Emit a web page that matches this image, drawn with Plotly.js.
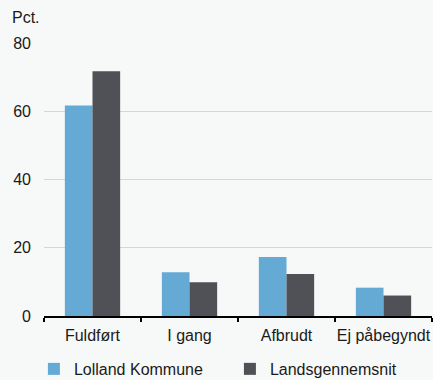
<!DOCTYPE html>
<html>
<head>
<meta charset="utf-8">
<script src="https://cdn.plot.ly/plotly-3.0.1.min.js"></script>
<style>html,body{margin:0;padding:0;background:#f7f8f8;}</style>
</head>
<body>
<div id="chart" style="width:433px;height:380px;"></div>
<script>
const categories = ["Fuldført", "I gang", "Afbrudt", "Ej påbegyndt"];
const lollandValues = [61.7, 12.8, 17.3, 8.3];
const landsValues = [71.7, 9.9, 12.3, 6.0];
const seriesNames = ["Lolland Kommune", "Landsgennemsnit"];
const yTicks = [0, 20, 40, 60, 80];

const font = {family: "Liberation Sans, Arial, sans-serif", size: 16, color: "#1a1a1a"};

const traces = [
  {type: "bar", x: categories, y: lollandValues, name: seriesNames[0],
   marker: {color: "#64aad5"}, hoverinfo: "skip"},
  {type: "bar", x: categories, y: landsValues, name: seriesNames[1],
   marker: {color: "#505157"}, hoverinfo: "skip"}
];

const layout = {
  width: 433, height: 380,
  paper_bgcolor: "#f7f8f8", plot_bgcolor: "#f7f8f8",
  font: font,
  margin: {l: 44, r: 1, t: 42.5, b: 64, autoexpand: false},
  barmode: "group", bargap: 0.43, bargroupgap: 0,
  xaxis: {type: "category", tickson: "boundaries", ticks: "outside", ticklen: 4,
          tickcolor: "#000", tickwidth: 1.5, showline: true, linecolor: "#000", linewidth: 1.5,
          showgrid: false, tickfont: font, tickangle: 0, ticklabelstandoff: 4, fixedrange: true},
  yaxis: {range: [0, 80], tickvals: yTicks, ticktext: yTicks.map(String), showgrid: true,
          gridcolor: "#d6d6d6", gridwidth: 1, zeroline: false, showline: false,
          ticks: "", ticklabelstandoff: 12, tickfont: font, fixedrange: true},
  showlegend: true,
  legend: {orientation: "h", x: -0.026, xanchor: "left", y: -0.194, yanchor: "middle",
           entrywidth: 151, font: font, bgcolor: "rgba(0,0,0,0)", traceorder: "normal"},
  annotations: [{text: "Pct.", xref: "paper", yref: "paper", x: -0.088, y: 1.093,
                 xanchor: "left", yanchor: "middle", showarrow: false, font: font}]
};

Plotly.newPlot("chart", traces, layout, {staticPlot: true, displayModeBar: false});
</script>
</body>
</html>
